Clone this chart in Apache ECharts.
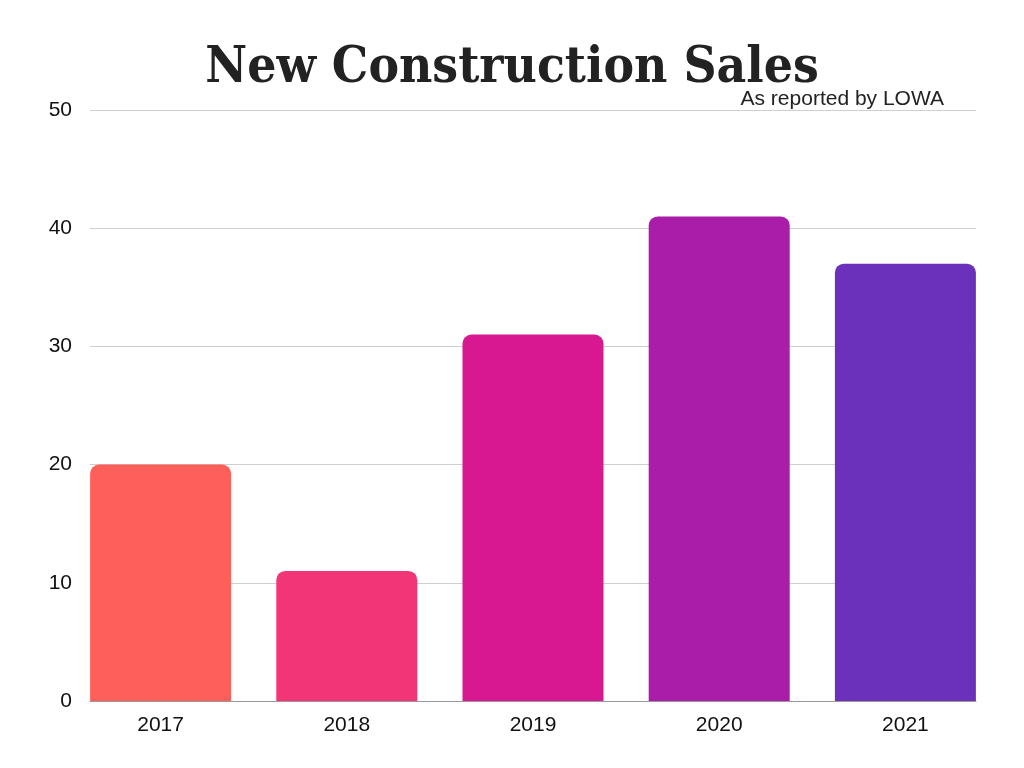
<!DOCTYPE html>
<html><head><meta charset="utf-8">
<script src="https://cdn.jsdelivr.net/npm/echarts@6/dist/echarts.min.js"></script>
<style>html,body{margin:0;padding:0;background:#fff}#c{width:1024px;height:768px}</style>
</head><body><div id="c"></div>
<script>
const categories = ['2017','2018','2019','2020','2021'];
const sales = [20, 11, 31, 41, 37];
const barColors = ['#FF5F5A','#F23576','#D81891','#A91DA9','#6C31BA'];
const yTicks = [0, 10, 20, 30, 40, 50];

const chart = echarts.init(document.getElementById('c'));
chart.setOption({
  animation: false,
  backgroundColor: '#ffffff',
  title: [
    {text: 'New Construction Sales', left: 507, textAlign: 'center', top: 38,
     textStyle: {fontFamily: 'DejaVu Serif Condensed', fontWeight: 'bold', fontSize: 51, color: '#222'}},
    {text: 'As reported by LOWA', right: 75, top: 84,
     textStyle: {fontFamily: 'Liberation Sans', fontWeight: 'normal', fontSize: 21, color: '#222'}}
  ],
  grid: [
    {left: 90, right: 48, top: 110, bottom: 67},
    {left: 67.5, right: 25.5, top: 110, bottom: 67}
  ],
  xAxis: [
    {type: 'category', gridIndex: 0, data: categories, axisLine: {show: true, lineStyle: {color: '#999', width: 1}},
     axisTick: {show: false}, axisLabel: {show: false}},
    {type: 'category', gridIndex: 1, data: categories, axisLine: {show: false}, axisTick: {show: false},
     axisLabel: {fontFamily: 'Liberation Sans', fontSize: 21, color: '#111', margin: 14}}
  ],
  yAxis: [
    {type: 'value', gridIndex: 0, min: 0, max: 50, interval: 10,
     axisLine: {show: false}, axisTick: {show: false},
     axisLabel: {fontFamily: 'Liberation Sans', fontSize: 21, color: '#111', margin: 18,
       formatter: v => yTicks.includes(v) ? String(v) : ''},
     splitLine: {lineStyle: {color: '#cfcfcf', width: 1}}},
    {type: 'value', gridIndex: 1, min: 0, max: 50, interval: 10, show: false, splitLine: {show: false}}
  ],
  series: [{
    type: 'bar', xAxisIndex: 1, yAxisIndex: 1, barWidth: 141,
    data: sales.map((v, i) => ({value: v, itemStyle: {color: barColors[i]}})),
    itemStyle: {borderRadius: [9, 9, 0, 0]}
  }]
});
</script></body></html>
